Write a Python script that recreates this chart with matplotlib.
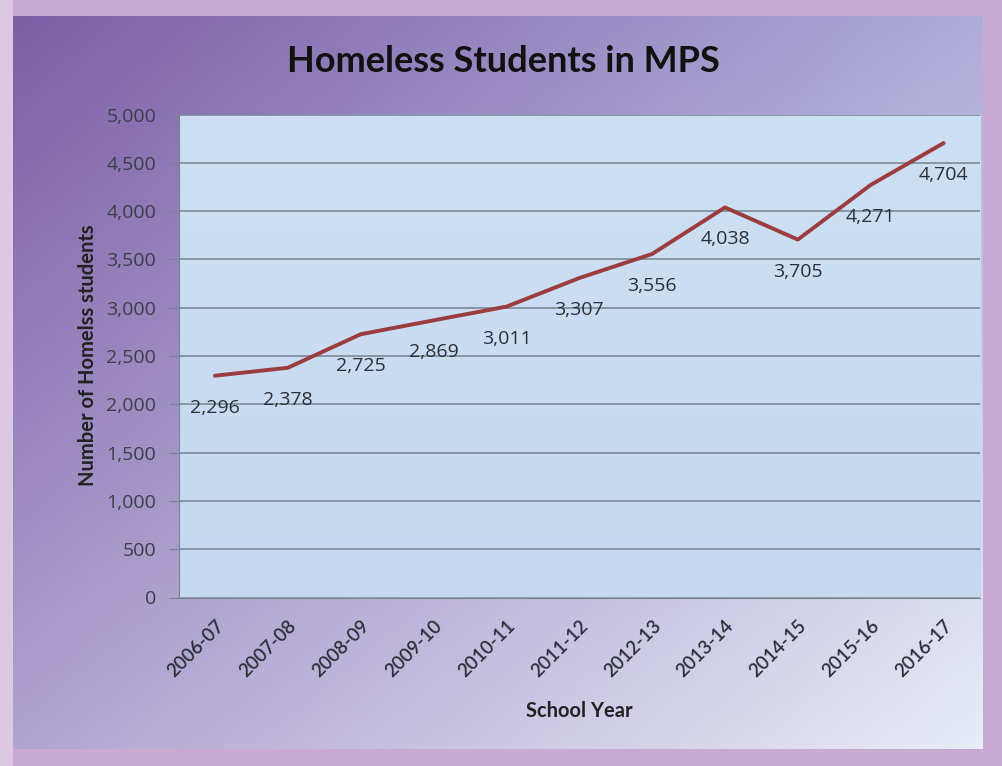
import numpy as np
import matplotlib
matplotlib.use("Agg")
import matplotlib.pyplot as plt
from matplotlib.ticker import FuncFormatter

# data
years = ["2006-07", "2007-08", "2008-09", "2009-10", "2010-11", "2011-12",
         "2012-13", "2013-14", "2014-15", "2015-16", "2016-17"]
students = [2296, 2378, 2725, 2869, 3011, 3307, 3556, 4038, 3705, 4271, 4704]

plt.rcParams['font.family'] = ['Open Sans', 'DejaVu Sans']

fig = plt.figure(figsize=(10.02, 7.66), dpi=100)
fig.patch.set_facecolor("#c9aad3")

# lighter strip on the left edge
edge = fig.add_axes([0, 0, 13 / 1002, 1], zorder=0)
edge.axis("off")
edge.add_patch(plt.Rectangle((0, 0), 1, 1, color="#dcc8e0", transform=edge.transAxes))

# gradient panel behind the chart
bg = fig.add_axes([13 / 1002, 1 - 749 / 766, 970 / 1002, 733 / 766], zorder=0)
tl = np.array([0x7c, 0x5e, 0xa6]) / 255
tr = np.array([0xae, 0xac, 0xd8]) / 255
bl = np.array([0xb0, 0xa4, 0xd0]) / 255
br = np.array([0xe8, 0xec, 0xf8]) / 255
u = np.linspace(0, 1, 200)[None, :, None]
v = np.linspace(0, 1, 200)[:, None, None]
grad = (1 - u) * (1 - v) * tl + u * (1 - v) * tr + (1 - u) * v * bl + u * v * br
bg.imshow(grad, aspect="auto", extent=[0, 1, 0, 1], origin="upper")
bg.axis("off")

ax = fig.add_axes([178.5 / 1002, 1 - 597.5 / 766, 801.5 / 1002, 483 / 766], zorder=1)
# plot area gradient
pa = np.linspace(0, 1, 100)[:, None, None]
top = np.array([0xcd, 0xe0, 0xf3]) / 255
bot = np.array([0xc6, 0xd8, 0xef]) / 255
ax.imshow(np.repeat((1 - pa) * top + pa * bot, 2, axis=1), aspect="auto",
          extent=[-0.5, len(years) - 0.5, 0, 5000], origin="upper", zorder=0)

x = np.arange(len(years))
ax.plot(x, students, color="#9b3c3e", linewidth=2.8, solid_capstyle="round", zorder=3)

for xi, val in zip(x, students):
    ax.annotate(f"{val:,}", (xi, val), xytext=(0, -23), textcoords="offset points",
                ha="center", va="center", fontsize=14, color="#2a2f3a", zorder=4)

ax.set_xlim(-0.5, len(years) - 0.5)
ax.set_ylim(0, 5000)
ax.set_yticks(np.arange(0, 5001, 500))
ax.yaxis.set_major_formatter(FuncFormatter(lambda v, p: f"{int(v):,}"))
ax.grid(axis="y", color="#74838f", linewidth=1.1, zorder=1)
ax.set_axisbelow(True)

ax.set_xticks(x)
ax.set_xticklabels(years, rotation=45, ha="right", rotation_mode="anchor",
                   fontsize=13.5, fontweight="semibold", color="#2a2f3a",
                   family=['Lato', 'DejaVu Sans'])
ax.tick_params(axis="x", length=0, pad=14)
ax.tick_params(axis="y", length=7, color="#74838f", labelsize=14, labelcolor="#3a3f4a", pad=9)

for s in ["top", "right"]:
    ax.spines[s].set_visible(False)
ax.spines["left"].set_color("#74838f")
ax.spines["bottom"].set_color("#74838f")

fig.text(0.502, 1 - 62 / 766, "Homeless Students in MPS", ha="center", va="center",
         fontsize=26, fontweight="bold", color="#111111", family=['Lato', 'DejaVu Sans'])
fig.text(88 / 1002, 1 - 355 / 766, "Number of Homelss students", rotation=90,
         ha="center", va="center", fontsize=14.5, fontweight="bold", color="#222222",
         family=['Lato', 'DejaVu Sans'])
fig.text(579 / 1002, 1 - 711 / 766, "School Year", ha="center", va="center",
         fontsize=14.5, fontweight="bold", color="#222222", family=['Lato', 'DejaVu Sans'])

fig.savefig("out.png", dpi=100, facecolor=fig.get_facecolor())
